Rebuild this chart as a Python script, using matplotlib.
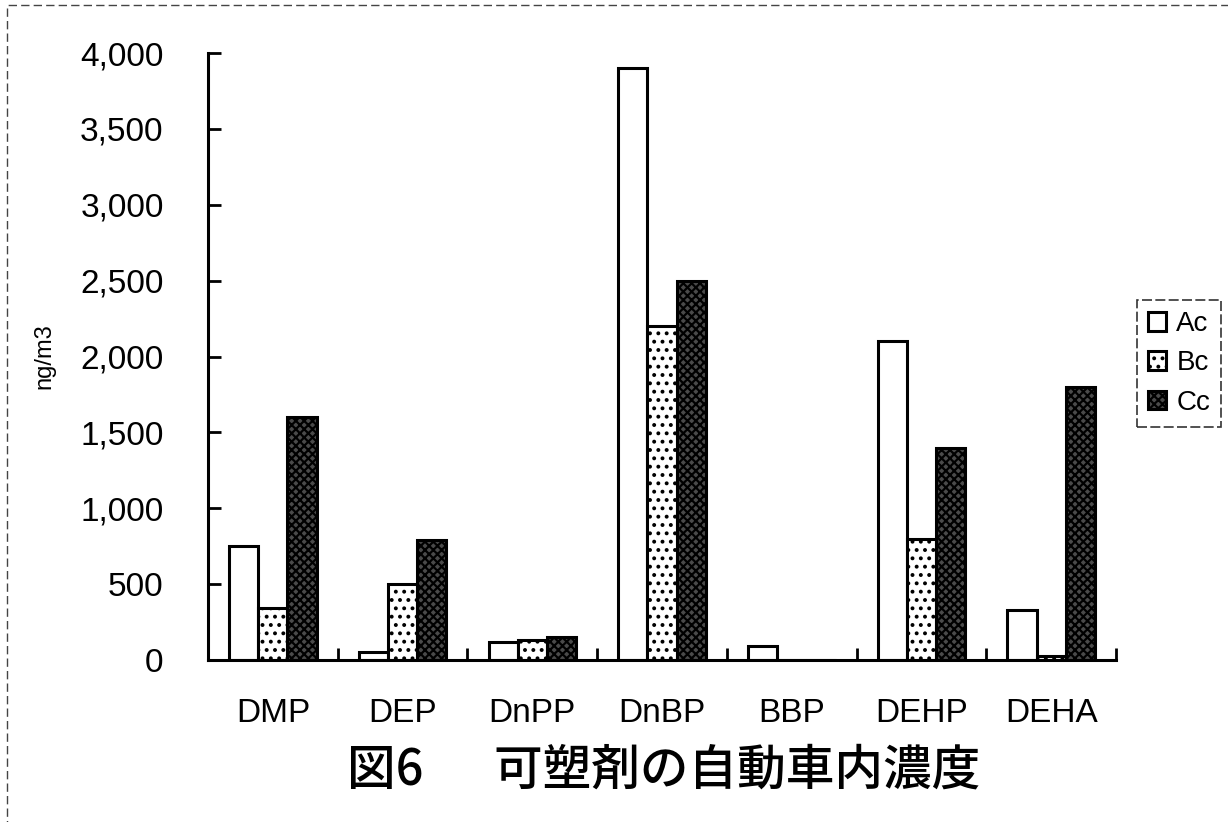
import numpy as np
import matplotlib.pyplot as plt
from matplotlib.patches import Rectangle
from matplotlib.ticker import FuncFormatter, FixedLocator

categories = ['DMP', 'DEP', 'DnPP', 'DnBP', 'BBP', 'DEHP', 'DEHA']
ac = [750, 50, 120, 3900, 90, 2100, 330]
bc = [340, 500, 130, 2200, 0, 800, 25]
cc = [1600, 790, 150, 2500, 0, 1400, 1800]
yticks = [0, 500, 1000, 1500, 2000, 2500, 3000, 3500, 4000]

plt.rcParams['font.family'] = ['Liberation Sans', 'DejaVu Sans']
plt.rcParams['hatch.linewidth'] = 1.6

fig = plt.figure(figsize=(12.28, 8.22), dpi=100)
ax = fig.add_axes([0.1694, 0.197, 0.7394, 0.7385])

x = np.arange(len(categories))
w = 0.225
ax.bar(x - w, ac, w, color='white', edgecolor='black', linewidth=2.2, label='Ac')
ax.bar(x, bc, w, color='white', edgecolor='black', linewidth=2.2, hatch='..', label='Bc')
ax.bar(x + w, cc, w, color='#4a4a4a', edgecolor='black', linewidth=2.2, hatch='xxxx', label='Cc')

ax.set_xlim(-0.5, len(categories) - 0.5)
ax.set_ylim(0, 4000)
ax.set_yticks(yticks)
ax.yaxis.set_major_formatter(FuncFormatter(lambda v, p: f'{int(v):,}'))
ax.xaxis.set_major_locator(FixedLocator(np.arange(len(categories) + 1) - 0.5))
ax.xaxis.set_major_formatter(FuncFormatter(lambda v, p: ''))
ax.xaxis.set_minor_locator(FixedLocator(x))
ax.set_xticklabels(categories, minor=True)
ax.tick_params(axis='x', which='major', direction='in', length=9, width=2)
ax.tick_params(axis='x', which='minor', length=0, labelsize=24, pad=27)
ax.tick_params(axis='y', direction='in', length=9, width=2, labelsize=24, pad=32)
for s in ['top', 'right']:
    ax.spines[s].set_visible(False)
for s in ['left', 'bottom']:
    ax.spines[s].set_linewidth(2.2)

ax.set_ylabel('ng/m3', fontsize=17)
ax.yaxis.set_label_coords(-0.1685, 0.5)

leg = fig.legend(loc='upper left', bbox_to_anchor=(0.926, 0.635), borderaxespad=0,
                 fontsize=20, frameon=True, fancybox=False, edgecolor='black',
                 handlelength=0.65, handleheight=0.65, handletextpad=0.36,
                 borderpad=0.4, labelspacing=0.48)
leg.get_frame().set_linewidth(1.2)
leg.get_frame().set_linestyle((0, (6, 2)))

fig.text(0.5403, 0.063, '図6\u3000  可塑剤の自動車内濃度', ha='center', va='center',
         fontsize=35, fontweight='medium',
         family=['Noto Sans CJK JP', 'DejaVu Sans'])

fig.patches.append(Rectangle((0.006, -0.01), 1.0, 1.004, transform=fig.transFigure,
                             fill=False, edgecolor='#444444', linewidth=1,
                             linestyle=(0, (6, 3))))

fig.savefig('out.png', dpi=100)
